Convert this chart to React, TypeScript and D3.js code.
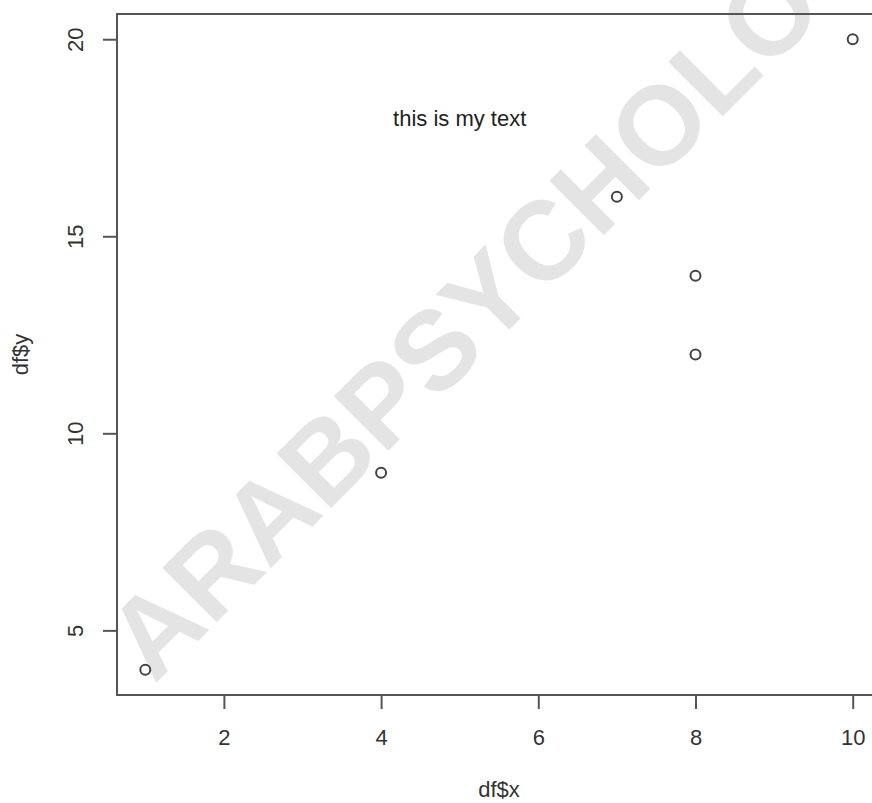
import React, { useEffect, useRef } from 'react';
import * as d3 from 'd3';

// data
const xs = [1, 4, 7, 8, 8, 10];
const ys = [4, 9, 16, 14, 12, 20];
const xTicks = [2, 4, 6, 8, 10];
const yTicks = [5, 10, 15, 20];
const note = { x: 5, y: 18, label: 'this is my text' };

const W = 872;
const H = 803;
const FONT = '"Liberation Sans", Arial, Helvetica, sans-serif';

// R-style 4% padding of the data range
const pad = (lo: number, hi: number): [number, number] => {
  const d = (hi - lo) * 0.04;
  return [lo - d, hi + d];
};

const App = () => {
  const svgRef = useRef(null);

  useEffect(() => {
    document.body.style.margin = '0';
    const svg = d3.select(svgRef.current);
    svg.selectAll('*').remove();

    const x = d3.scaleLinear().domain(pad(d3.min(xs), d3.max(xs))).range([117, 881]);
    const y = d3.scaleLinear().domain(pad(d3.min(ys), d3.max(ys))).range([695, 14]);

    svg.append('rect').attr('width', W).attr('height', H).attr('fill', '#fff');

    // watermark
    svg
      .append('text')
      .attr('transform', 'translate(548,291) rotate(-45)')
      .attr('text-anchor', 'middle')
      .attr('font-family', FONT)
      .attr('font-weight', 'bold')
      .attr('font-size', 112)
      .attr('fill', '#e4e4e4')
      .text('ARABPSYCHOLOGY');

    // box
    svg
      .append('rect')
      .attr('x', x.range()[0])
      .attr('y', y.range()[1])
      .attr('width', x.range()[1] - x.range()[0])
      .attr('height', y.range()[0] - y.range()[1])
      .attr('fill', 'none')
      .attr('stroke', '#555')
      .attr('stroke-width', 2);

    // x axis
    const gx = svg
      .append('g')
      .attr('transform', `translate(0,${y.range()[0]})`)
      .call(d3.axisBottom(x).tickValues(xTicks).tickSize(14).tickPadding(20).tickSizeOuter(0));
    gx.select('.domain').remove();
    gx.selectAll('line').attr('stroke', '#555').attr('stroke-width', 2);
    gx.selectAll('text')
      .attr('font-family', FONT)
      .attr('font-size', 22)
      .attr('fill', '#333');

    // y axis (labels rotated like R's las=0)
    const gy = svg
      .append('g')
      .attr('transform', `translate(${x.range()[0]},0)`)
      .call(d3.axisLeft(y).tickValues(yTicks).tickSize(14).tickSizeOuter(0));
    gy.select('.domain').remove();
    gy.selectAll('line').attr('stroke', '#555').attr('stroke-width', 2);
    gy.selectAll('text')
      .attr('x', null)
      .attr('dy', null)
      .attr('transform', 'translate(-34,0) rotate(-90)')
      .attr('text-anchor', 'middle')
      .attr('font-family', FONT)
      .attr('font-size', 22)
      .attr('fill', '#333');

    // axis titles
    svg
      .append('text')
      .attr('x', (x.range()[0] + x.range()[1]) / 2)
      .attr('y', 797)
      .attr('text-anchor', 'middle')
      .attr('font-family', FONT)
      .attr('font-size', 22)
      .attr('fill', '#333')
      .text('df$x');
    svg
      .append('text')
      .attr('transform', `translate(28,${(y.range()[0] + y.range()[1]) / 2}) rotate(-90)`)
      .attr('text-anchor', 'middle')
      .attr('font-family', FONT)
      .attr('font-size', 22)
      .attr('fill', '#333')
      .text('df$y');

    // points
    svg
      .append('g')
      .selectAll('circle')
      .data(xs.map((v, i) => [v, ys[i]]))
      .join('circle')
      .attr('cx', (d) => x(d[0]))
      .attr('cy', (d) => y(d[1]))
      .attr('r', 5)
      .attr('fill', 'none')
      .attr('stroke', '#444')
      .attr('stroke-width', 2);

    // annotation
    svg
      .append('text')
      .attr('x', x(note.x))
      .attr('y', y(note.y))
      .attr('dy', '0.35em')
      .attr('text-anchor', 'middle')
      .attr('font-family', FONT)
      .attr('font-size', 22)
      .attr('fill', '#222')
      .text(note.label);
  }, []);

  return <svg ref={svgRef} width={W} height={H} style={{ display: 'block' }} />;
};

export default App;
